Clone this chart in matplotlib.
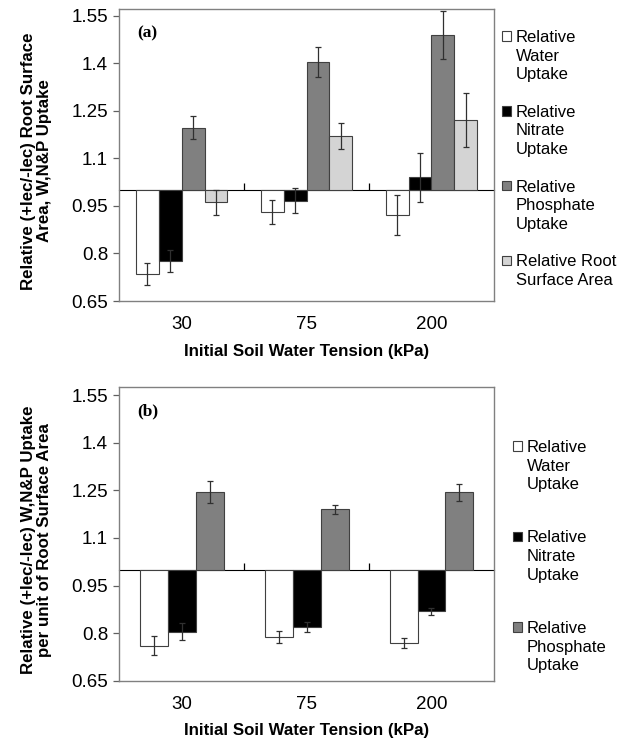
import matplotlib
matplotlib.use('Agg')
import matplotlib.pyplot as plt
from matplotlib.patches import Rectangle, Patch
from matplotlib.legend_handler import HandlerPatch
import numpy as np

plt.rcParams['font.family'] = ['Liberation Sans', 'DejaVu Sans']

# --- data ---
tension = ['30', '75', '200']
y_ticks = [0.65, 0.8, 0.95, 1.1, 1.25, 1.4, 1.55]
y_tick_labels = ['0.65', '0.8', '0.95', '1.1', '1.25', '1.4', '1.55']

# panel (a): relative uptake / root surface area
a_water = [0.735, 0.930, 0.921]
a_water_err = [0.035, 0.038, 0.063]
a_nitrate = [0.776, 0.967, 1.040]
a_nitrate_err = [0.036, 0.038, 0.078]
a_phosphate = [1.197, 1.404, 1.489]
a_phosphate_err = [0.036, 0.047, 0.076]
a_root = [0.961, 1.171, 1.221]
a_root_err = [0.040, 0.040, 0.085]

# panel (b): uptake per unit of root surface area
b_water = [0.760, 0.788, 0.770]
b_water_err = [0.030, 0.018, 0.016]
b_nitrate = [0.804, 0.819, 0.869]
b_nitrate_err = [0.027, 0.016, 0.011]
b_phosphate = [1.244, 1.190, 1.244]
b_phosphate_err = [0.035, 0.015, 0.027]

BASE = 1.0
LEG_FS = 12
LINESPACING = 1.31
ASC = 0.84   # ascent of "lp" in em, as matplotlib measures it


def top_square(legend, orig_handle, xdescent, ydescent, width, height, fontsize):
    # put the legend square next to the first line of a multi-line label
    n = orig_handle.get_label().count('\n') + 1
    block = fontsize * (ASC + 0.21 + (n - 1) * ASC * LINESPACING)
    size = width
    return Rectangle((-xdescent, block / 2 - size / 2 - 0.06 * fontsize), size, size)


def draw_panel(ax, series, width, ylim, tag, ylabel, leg_anchor, leg_spacing):
    x = np.arange(len(tension))
    n = len(series)
    handles = []
    for i, (label, vals, errs, color) in enumerate(series):
        pos = x + (i - (n - 1) / 2) * width
        vals = np.asarray(vals)
        ax.bar(pos, vals - BASE, width, bottom=BASE, color=color,
               edgecolor='#404040', linewidth=0.8, zorder=2)
        ax.errorbar(pos, vals, yerr=errs, fmt='none', ecolor='#303030',
                    elinewidth=0.9, capsize=2.5, capthick=0.9, zorder=3)
        handles.append(Patch(facecolor=color, edgecolor='#404040',
                             linewidth=0.8, label=label))

    ax.set_xlim(-0.5, len(tension) - 0.5)
    ax.set_ylim(*ylim)
    ax.set_yticks(y_ticks)
    ax.set_yticklabels(y_tick_labels)
    ax.set_xticks(x)
    ax.set_xticklabels(tension)
    ax.tick_params(axis='x', length=0, pad=11, labelsize=13.5)
    ax.tick_params(axis='y', length=4, width=0.9, pad=4, labelsize=13.5,
                   color='#606060')
    for sp in ax.spines.values():
        sp.set_color('#808080')
        sp.set_linewidth(1.0)

    # category axis crossing at 1.0
    sec = ax.secondary_xaxis(BASE, transform=ax.transData)
    sec.set_xticks([0.5, 1.5])
    sec.set_xticklabels([])
    sec.tick_params(length=5, width=0.9, direction='out', color='black')
    sec.spines['bottom'].set_color('black')
    sec.spines['bottom'].set_linewidth(1.0)

    ax.set_xlabel('Initial Soil Water Tension (kPa)', fontsize=12.2,
                  fontweight='bold', labelpad=7.5)
    ax.set_ylabel(ylabel, fontsize=12.2, fontweight='bold', linespacing=1.1)
    ax.yaxis.set_label_coords(-0.18, 0.48)
    ax.text(0.047, 0.945, tag, transform=ax.transAxes, ha='left', va='top',
            fontsize=12.5, fontweight='bold', family='Liberation Serif')

    leg = ax.figure.legend(handles=handles, loc='upper left',
                           bbox_to_anchor=leg_anchor, frameon=False,
                           fontsize=LEG_FS, borderpad=0, borderaxespad=0,
                           handlelength=0.56, handleheight=0.7,
                           handletextpad=0.3, labelspacing=leg_spacing,
                           handler_map={Patch: HandlerPatch(patch_func=top_square)})
    for t in leg.get_texts():
        t.set_linespacing(LINESPACING)


fig = plt.figure(figsize=(6.21, 7.40), dpi=100)
ax_a = fig.add_axes([0.192, 0.5932, 0.6034, 0.3942])
ax_b = fig.add_axes([0.192, 0.0801, 0.6034, 0.3965])

draw_panel(ax_a,
           [('Relative\nWater\nUptake', a_water, a_water_err, 'white'),
            ('Relative\nNitrate\nUptake', a_nitrate, a_nitrate_err, 'black'),
            ('Relative\nPhosphate\nUptake', a_phosphate, a_phosphate_err, '#808080'),
            ('Relative Root\nSurface Area', a_root, a_root_err, '#d4d4d4')],
           width=0.183, ylim=(0.65, 1.57), tag='(a)',
           ylabel='Relative (+lec/-lec) Root Surface\nArea, W,N&P Uptake',
           leg_anchor=(0.808, 0.9595), leg_spacing=1.34)

draw_panel(ax_b,
           [('Relative\nWater\nUptake', b_water, b_water_err, 'white'),
            ('Relative\nNitrate\nUptake', b_nitrate, b_nitrate_err, 'black'),
            ('Relative\nPhosphate\nUptake', b_phosphate, b_phosphate_err, '#808080')],
           width=0.224, ylim=(0.65, 1.575), tag='(b)',
           ylabel='Relative (+lec/-lec) W,N&P Uptake\nper unit of Root Surface Area',
           leg_anchor=(0.8256, 0.4054), leg_spacing=2.28)

fig.savefig('out.png', dpi=100)
